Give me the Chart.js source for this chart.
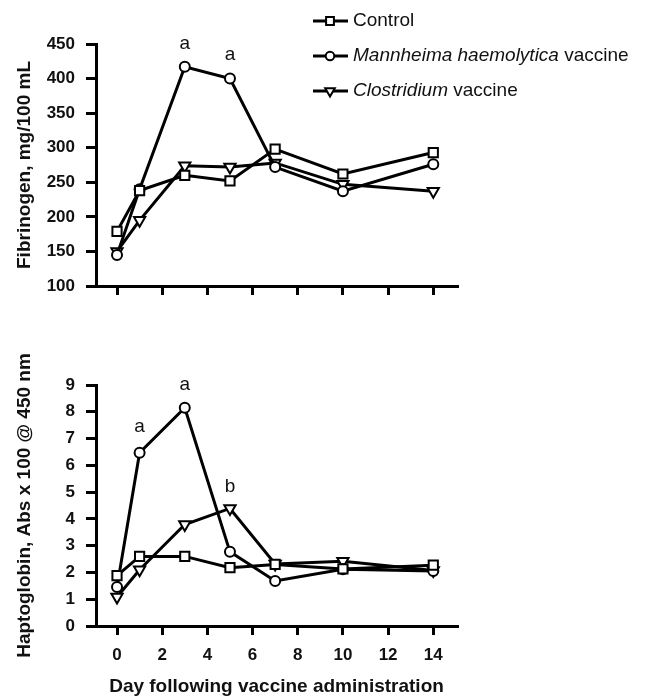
<!DOCTYPE html>
<html>
<head>
<meta charset="utf-8">
<script src="https://cdn.jsdelivr.net/npm/chart.js@4.4.0/dist/chart.umd.min.js"></script>
<style>
  html, body { margin: 0; padding: 0; background: #fff; overflow: hidden; }
  #wrap { position: relative; width: 655px; height: 696px; }
  #fibChart { position: absolute; left: 0; top: 0; }
  #hapChart { position: absolute; left: 0; top: 330px; }
</style>
</head>
<body>
<div id="wrap">
  <canvas id="fibChart" width="655" height="320"></canvas>
  <canvas id="hapChart" width="655" height="372"></canvas>
</div>
<script>
// data
const days = [0, 1, 3, 5, 7, 10, 14];
const xTicks = [0, 2, 4, 6, 8, 10, 12, 14];

const seriesLabels = ['Control', 'Mannheima haemolytica vaccine', 'Clostridium vaccine'];
const italicParts = ['', 'Mannheima haemolytica', 'Clostridium'];

const fibControl = [179, 238, 260, 252, 298, 262, 293];
const fibMannheima = [145, 240, 417, 400, 272, 237, 276];
const fibClostridium = [150, 195, 274, 272, 278, 247, 237];

const hapControl = [1.88, 2.6, 2.6, 2.18, 2.3, 2.13, 2.27];
const hapMannheima = [1.46, 6.47, 8.15, 2.77, 1.68, 2.12, 2.05];
const hapClostridium = [1.08, 2.1, 3.79, 4.39, 2.32, 2.42, 2.07];

const fibNoteDays = [3, 5];
const fibNoteValues = [450, 434];
const fibNoteTexts = ['a', 'a'];

const hapNoteDays = [1, 3, 5];
const hapNoteValues = [7.44, 9.0, 5.2];
const hapNoteTexts = ['a', 'a', 'b'];

const family = '"Liberation Sans", Arial, sans-serif';

function makeDatasets(control, mann, clos) {
    const base = {
        borderColor: '#000',
        borderWidth: 3,
        pointBackgroundColor: '#fff',
        pointBorderColor: '#000',
        pointBorderWidth: 2,
        tension: 0,
        clip: false,
    };
    return [
        Object.assign({}, base, {
            label: seriesLabels[0],
            data: days.map((d, i) => ({ x: d, y: control[i] })),
            pointStyle: 'rect',
            pointRadius: 6.5,
        }),
        Object.assign({}, base, {
            label: seriesLabels[1],
            data: days.map((d, i) => ({ x: d, y: mann[i] })),
            pointStyle: 'circle',
            pointRadius: 5,
        }),
        Object.assign({}, base, {
            label: seriesLabels[2],
            data: days.map((d, i) => ({ x: d, y: clos[i] })),
            pointStyle: 'triangle',
            rotation: 180,
            pointRadius: 6.5,
        }),
    ];
}

// small letters above the points
const notesPlugin = {
    id: 'notes',
    afterDatasetsDraw(chart, args, opts) {
        if (!opts.days) return;
        const ctx = chart.ctx;
        ctx.save();
        ctx.fillStyle = '#111';
        ctx.font = '19px ' + family;
        ctx.textAlign = 'center';
        ctx.textBaseline = 'middle';
        opts.days.forEach((d, i) => {
            const x = chart.scales.x.getPixelForValue(d);
            const y = chart.scales.y.getPixelForValue(opts.values[i]);
            ctx.fillText(opts.texts[i], x, y);
        });
        ctx.restore();
    },
};

// legend with italic species names
const legendPlugin = {
    id: 'sideLegend',
    afterDraw(chart, args, opts) {
        if (!opts.show) return;
        const ctx = chart.ctx;
        chart.data.datasets.forEach((ds, i) => {
            const y = 21 + i * 35;
            ctx.save();
            ctx.strokeStyle = '#000';
            ctx.lineWidth = 3;
            ctx.beginPath();
            ctx.moveTo(313, y);
            ctx.lineTo(348, y);
            ctx.stroke();
            ctx.fillStyle = '#fff';
            ctx.lineWidth = 2;
            Chart.helpers.drawPoint(ctx, {
                pointStyle: ds.pointStyle,
                rotation: ds.rotation || 0,
                radius: ds.pointRadius * 0.85,
                borderWidth: 2,
            }, 330, y);

            ctx.fillStyle = '#111';
            ctx.textBaseline = 'middle';
            ctx.textAlign = 'left';
            let x = 353;
            const it = italicParts[i];
            let rest = ds.label;
            if (it) {
                ctx.font = 'italic 19px ' + family;
                ctx.fillText(it, x, y);
                x += ctx.measureText(it).width;
                rest = ds.label.slice(it.length);
            }
            ctx.font = '19px ' + family;
            ctx.fillText(rest, x, y);
            ctx.restore();
        });
    },
};

function makeOptions(o) {
    return {
        responsive: false,
        animation: false,
        layout: { padding: { top: o.padTop, left: 9, right: 198, bottom: 0 } },
        plugins: {
            legend: { display: false },
            tooltip: { enabled: false },
            notes: o.notes,
            sideLegend: { show: o.legend },
        },
        scales: {
            x: {
                type: 'linear',
                min: -0.93,
                max: 15.05,
                afterBuildTicks: (s) => { s.ticks = xTicks.map((v) => ({ value: v })); },
                afterFit: (s) => { s.height = o.xHeight; },
                border: { display: true, color: '#000', width: 3 },
                grid: { display: true, drawOnChartArea: false, drawTicks: true, tickLength: 9, color: '#000', lineWidth: 3 },
                ticks: {
                    display: o.showX,
                    color: '#111',
                    padding: 10,
                    maxRotation: 0,
                    autoSkip: false,
                    font: { family: family, size: 17, weight: 'bold' },
                },
                title: {
                    display: o.showX,
                    text: 'Day following vaccine administration',
                    color: '#111',
                    padding: { top: 0, bottom: 4 },
                    font: { family: family, size: 19, weight: 'bold' },
                },
            },
            y: {
                min: o.yMin,
                max: o.yMax,
                afterFit: (s) => { s.width = 87; },
                border: { display: true, color: '#000', width: 3 },
                grid: { display: true, drawOnChartArea: false, drawTicks: true, tickLength: 10, color: '#000', lineWidth: 3 },
                ticks: {
                    stepSize: o.yStep,
                    color: '#111',
                    padding: 11,
                    font: { family: family, size: 17, weight: 'bold' },
                },
                title: {
                    display: true,
                    text: o.yTitle,
                    color: '#111',
                    padding: { top: 4, bottom: 0 },
                    font: { family: family, size: 19, weight: 'bold' },
                },
            },
        },
    };
}

new Chart(document.getElementById('fibChart').getContext('2d'), {
    type: 'line',
    data: { datasets: makeDatasets(fibControl, fibMannheima, fibClostridium) },
    options: makeOptions({
        padTop: 44, xHeight: 34, showX: false, legend: true,
        yMin: 100, yMax: 450, yStep: 50,
        yTitle: 'Fibrinogen, mg/100 mL',
        notes: { days: fibNoteDays, values: fibNoteValues, texts: fibNoteTexts },
    }),
    plugins: [notesPlugin, legendPlugin],
});

new Chart(document.getElementById('hapChart').getContext('2d'), {
    type: 'line',
    data: { datasets: makeDatasets(hapControl, hapMannheima, hapClostridium) },
    options: makeOptions({
        padTop: 55, xHeight: 76, showX: true, legend: false,
        yMin: 0, yMax: 9, yStep: 1,
        yTitle: 'Haptoglobin, Abs x 100 @ 450 nm',
        notes: { days: hapNoteDays, values: hapNoteValues, texts: hapNoteTexts },
    }),
    plugins: [notesPlugin, legendPlugin],
});
</script>
</body>
</html>
